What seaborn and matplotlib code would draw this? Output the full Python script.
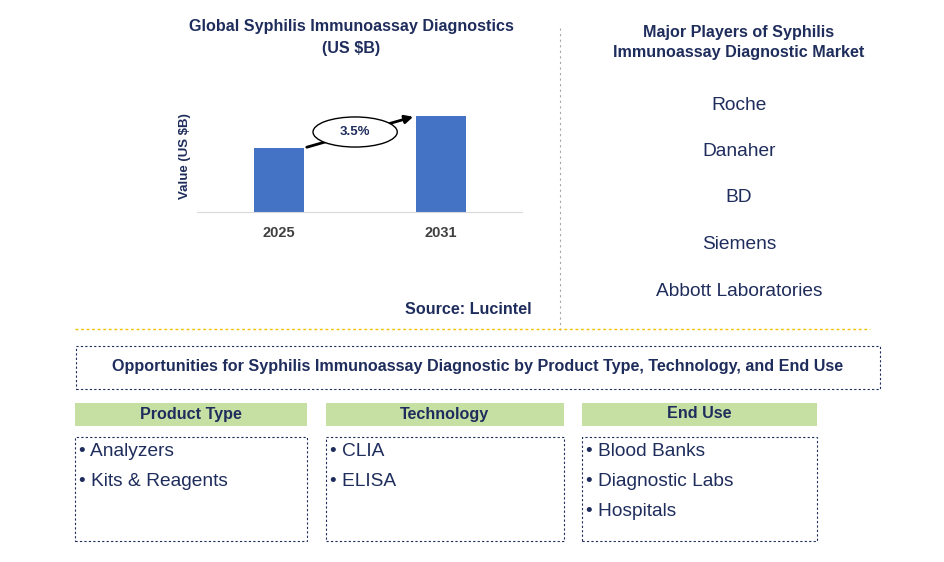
import matplotlib
matplotlib.use("Agg")
import matplotlib.pyplot as plt
import seaborn as sns
import pandas as pd
from matplotlib.patches import Rectangle, Ellipse, FancyArrowPatch

years = ["2025", "2031"]
values = [1.0, 1.5]
cagr_label = "3.5%"
players = ["Roche", "Danaher", "BD", "Siemens", "Abbott Laboratories"]
segments = ["Product Type", "Technology", "End Use"]
segment_items = [["Analyzers", "Kits & Reagents"],
                 ["CLIA", "ELISA"],
                 ["Blood Banks", "Diagnostic Labs", "Hospitals"]]

plt.rcParams["font.family"] = "Liberation Sans"
W, H = 945, 562
navy = "#1f2d5c"
fig = plt.figure(figsize=(W / 100, H / 100), dpi=100)

def fx(x):
    return x / W

def fy(y):
    return 1 - y / H

# bar chart
ax = fig.add_axes([fx(197), fy(212), fx(325), (212 - 100) / H])
df = pd.DataFrame({"year": years, "value": values})
sns.barplot(data=df, x="year", y="value", color="#4472c4", width=0.31, ax=ax, saturation=1)
ax.set_xlim(-0.506, 1.5)
ax.set_ylim(0, 1.75)
ax.set_yticks([])
for s in ["top", "right", "left"]:
    ax.spines[s].set_visible(False)
ax.spines["bottom"].set_color("#d9d9d9")
ax.tick_params(axis="x", length=0, pad=10)
for t in ax.get_xticklabels():
    t.set_fontweight("bold")
    t.set_fontsize(10.5)
    t.set_color("#404040")
ax.set_xlabel("")
ax.set_ylabel("Value (US $B)", fontsize=9.5, fontweight="bold", color=navy)

arrow = FancyArrowPatch((0.155, values[0]), (0.845, values[1] * 1.0), arrowstyle="-|>",
                        mutation_scale=12, lw=2, color="black", clip_on=False)
ax.add_patch(arrow)
ax.add_patch(Ellipse((0.47, 1.25), 0.52, 0.47, facecolor="white", edgecolor="black", lw=1, zorder=5))
ax.text(0.47, 1.25, cagr_label, ha="center", va="center", fontsize=9.5, fontweight="bold",
        color=navy, zorder=6)

fig.text(fx(351), fy(26), "Global Syphilis Immunoassay Diagnostics", ha="center", va="center",
         fontsize=11.6, fontweight="bold", color=navy)
fig.text(fx(351), fy(48), "(US $B)", ha="center", va="center", fontsize=11.6, fontweight="bold", color=navy)
fig.text(fx(468), fy(309), "Source: Lucintel", ha="center", va="center", fontsize=11.6,
         fontweight="bold", color=navy)

# separators
fig.add_artist(plt.Line2D([fx(560), fx(560)], [fy(28), fy(330)], ls=(0, (2, 3)), color="#a6a6a6", lw=0.8))
fig.add_artist(plt.Line2D([fx(75), fx(870)], [fy(329), fy(329)], ls=(0, (2, 2)), color="#f2c200", lw=1))

# players
fig.text(fx(739), fy(32), "Major Players of Syphilis", ha="center", va="center", fontsize=11.6,
         fontweight="bold", color=navy)
fig.text(fx(739), fy(53), "Immunoassay Diagnostic Market", ha="center", va="center", fontsize=11.6,
         fontweight="bold", color=navy)
for i, p in enumerate(players):
    fig.text(fx(739), fy(105 + i * 46.5), p, ha="center", va="center", fontsize=13.8, color=navy)

# opportunities box
fig.add_artist(Rectangle((fx(76), fy(389)), fx(804), (389 - 346) / H, fill=False,
                         ls=(0, (2, 2)), edgecolor=navy, lw=0.8))
fig.text(fx(478), fy(367), "Opportunities for Syphilis Immunoassay Diagnostic by Product Type, Technology, and End Use",
         ha="center", va="center", fontsize=11.6, fontweight="bold", color=navy)

lefts = [75, 326, 582]
widths = [232, 238, 235]
for left, wd, seg, items in zip(lefts, widths, segments, segment_items):
    fig.add_artist(Rectangle((fx(left), fy(426)), fx(wd), (426 - 403) / H,
                             facecolor="#c6e0a4", edgecolor="none"))
    fig.text(fx(left + wd / 2), fy(414), seg, ha="center", va="center", fontsize=11.6,
             fontweight="bold", color=navy)
    fig.add_artist(Rectangle((fx(left), fy(541)), fx(wd), (541 - 437) / H, fill=False,
                             ls=(0, (2, 2)), edgecolor=navy, lw=0.8))
    for j, it in enumerate(items):
        fig.text(fx(left + 4), fy(452 + j * 30), "\u2022 " + it, ha="left", va="center",
                 fontsize=13.8, color=navy)

fig.savefig("out.png", dpi=100)
